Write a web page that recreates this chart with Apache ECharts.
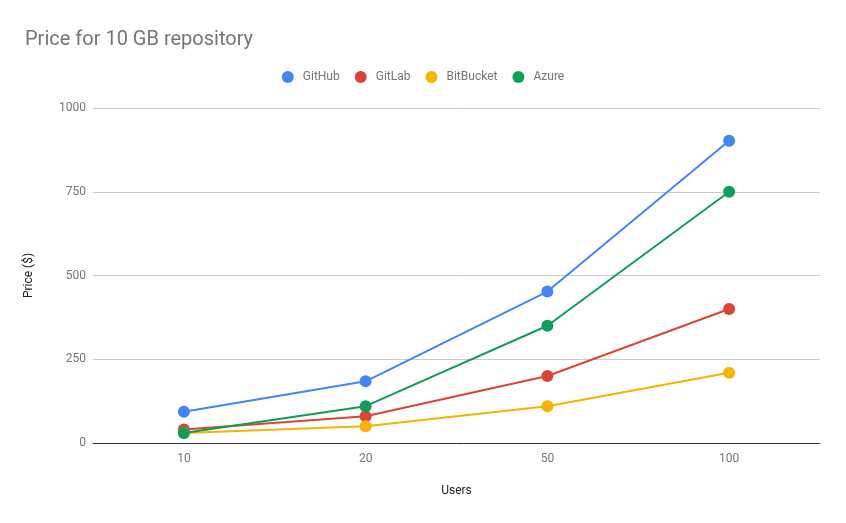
<!DOCTYPE html>
<html><head><meta charset="utf-8">
<script src="https://cdn.jsdelivr.net/npm/echarts@6/dist/echarts.min.js"></script>
<style>html,body{margin:0;padding:0;background:#fff}#c{width:846px;height:523px}</style>
</head><body><div id="c"></div>
<script>
const categories = ['10', '20', '50', '100'];
const github = [93, 184, 452, 902];
const gitlab = [40, 80, 200, 400];
const bitbucket = [30, 50, 110, 210];
const azure = [30, 110, 350, 750];
const yTicks = [0, 250, 500, 750, 1000];

const font = 'Roboto';
const chart = echarts.init(document.getElementById('c'));
function s(name, data, color) {
  return {name, type: 'line', data, symbol: 'circle', symbolSize: 12,
    lineStyle: {width: 2, color}, itemStyle: {color}, z: 2};
}
chart.setOption({
  animation: false,
  textStyle: {fontFamily: font},
  title: {text: 'Price for 10 GB repository', left: 20, top: 25,
    textStyle: {fontFamily: font, fontSize: 20, fontWeight: 'normal', color: '#757575'}},
  legend: {top: 66, left: 'center', icon: 'circle', itemWidth: 20, itemHeight: 12, itemGap: 15,
    textStyle: {fontFamily: font, fontSize: 12, color: '#757575'}},
  grid: {left: 93, right: 26, top: 108, bottom: 80},
  xAxis: {type: 'category', data: categories, boundaryGap: true, name: 'Users',
    nameLocation: 'middle', nameGap: 42,
    nameTextStyle: {fontFamily: font, fontSize: 12, color: '#222'},
    axisLine: {lineStyle: {color: '#333', width: 1}}, axisTick: {show: false},
    axisLabel: {fontFamily: font, fontSize: 12, color: '#757575', margin: 10}},
  yAxis: {type: 'value', min: yTicks[0], max: yTicks[yTicks.length - 1], interval: 250,
    name: 'Price ($)', nameLocation: 'middle', nameGap: 58,
    nameTextStyle: {fontFamily: font, fontSize: 12, color: '#222'},
    axisLine: {show: false}, axisTick: {show: false},
    axisLabel: {fontFamily: font, fontSize: 12, color: '#757575', margin: 7,
      formatter: v => String(v)},
    splitLine: {lineStyle: {color: '#cccccc', width: 1}}},
  series: [
    s('GitHub', github, '#4285F4'),
    s('GitLab', gitlab, '#DB4437'),
    s('BitBucket', bitbucket, '#F4B400'),
    s('Azure', azure, '#0F9D58')
  ]
});
</script></body></html>
